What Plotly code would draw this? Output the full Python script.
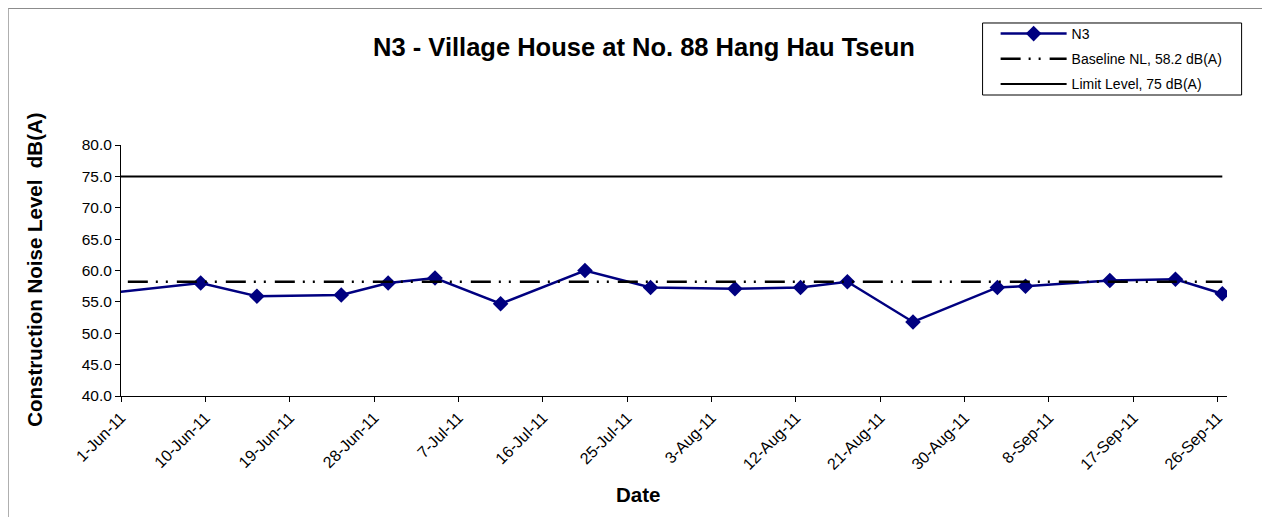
import pandas as pd
import plotly.graph_objects as go

# ---- data ----
dates = ["2011-05-27", "2011-06-09", "2011-06-15", "2011-06-24", "2011-06-29",
         "2011-07-04", "2011-07-11", "2011-07-20", "2011-07-27", "2011-08-05",
         "2011-08-12", "2011-08-17", "2011-08-24", "2011-09-02", "2011-09-05",
         "2011-09-14", "2011-09-21", "2011-09-26"]
n3_values = [55.9, 58.0, 55.9, 56.1, 58.0,
             58.8, 54.7, 60.0, 57.3, 57.1,
             57.3, 58.2, 51.8, 57.3, 57.5,
             58.4, 58.6, 56.3]
baseline_level = 58.2
limit_level = 75.0
tick_labels = ["1-Jun-11", "10-Jun-11", "19-Jun-11", "28-Jun-11", "7-Jul-11",
               "16-Jul-11", "25-Jul-11", "3-Aug-11", "12-Aug-11", "21-Aug-11",
               "30-Aug-11", "8-Sep-11", "17-Sep-11", "26-Sep-11"]
y_ticks = [40, 45, 50, 55, 60, 65, 70, 75, 80]

series_names = ["N3", "Baseline NL, 58.2 dB(A)", "Limit Level, 75 dB(A)"]
title_text = "N3 - Village House at No. 88 Hang Hau Tseun"

# Excel date axis places points in the middle of each day
x_dates = pd.to_datetime(dates) + pd.Timedelta(hours=12)
tick_dates = pd.to_datetime(tick_labels, format="%d-%b-%y")

FONT = "Liberation Sans, Arial, sans-serif"
W, H = 1262, 509  # page body has an 8px margin

fig = go.Figure()
fig.add_trace(go.Scatter(
    x=x_dates, y=n3_values, name=series_names[0], mode="lines+markers",
    line=dict(color="#000080", width=2.5),
    marker=dict(symbol="diamond", size=12, color="#000080"),
    legendgroup="a",
))
fig.add_trace(go.Scatter(
    x=x_dates, y=[baseline_level] * len(dates), name=series_names[1], mode="lines",
    line=dict(color="black", width=2.5, dash="20px,8px,2px,8px,2px,9px"),
    legendgroup="b",
))
fig.add_trace(go.Scatter(
    x=x_dates, y=[limit_level] * len(dates), name=series_names[2], mode="lines",
    line=dict(color="black", width=2),
    legendgroup="c",
))

fig.update_layout(
    width=W, height=H,
    margin=dict(l=113, r=43, t=137, b=121, autoexpand=False),
    paper_bgcolor="white", plot_bgcolor="white",
    font=dict(family=FONT, color="black"),
    title=dict(text="<b>" + title_text + "</b>", x=636 / W, xanchor="center",
               y=1 - 39 / H, yanchor="middle", font=dict(size=25.5, color="black")),
    showlegend=True,
    legend=dict(x=0.7908, y=1.506, xanchor="left", yanchor="top",
                borderwidth=0, bgcolor="rgba(0,0,0,0)",
                font=dict(size=14, color="black"), itemwidth=66,
                tracegroupgap=4),
    xaxis=dict(type="date", range=["2011-06-01", "2011-09-27"],
               tickvals=tick_dates, ticktext=tick_labels, tickangle=-45,
               ticks="outside", ticklen=5, tickcolor="black",
               showline=True, linecolor="black", linewidth=1,
               showgrid=False, zeroline=False,
               tickfont=dict(size=16, color="black")),
    yaxis=dict(range=[40, 80], tickvals=y_ticks, tickformat=".1f",
               ticks="outside", ticklen=5, tickcolor="black",
               showline=True, linecolor="black", linewidth=1,
               showgrid=False, zeroline=False,
               tickfont=dict(size=15.5, color="black")),
    annotations=[
        dict(text="<b>Construction Noise Level  dB(A)</b>", xref="paper", yref="paper",
             x=-0.078, y=0.502, textangle=-90, showarrow=False,
             font=dict(size=20.5, color="black"), xanchor="center", yanchor="middle"),
        dict(text="<b>Date</b>", xref="paper", yref="paper",
             x=0.467, y=-0.394, showarrow=False,
             font=dict(size=20.5, color="black"), xanchor="center", yanchor="middle"),
    ],
    shapes=[
        # chart-area border (left and top edges)
        dict(type="line", xref="paper", yref="paper", x0=-0.1020, x1=-0.1020,
             y0=1.5438, y1=-0.6, line=dict(color="#8c8c8c", width=1)),
        dict(type="line", xref="paper", yref="paper", x0=-0.1020, x1=1.1,
             y0=1.5438, y1=1.5438, line=dict(color="#8c8c8c", width=1)),
        # legend frame
        dict(type="rect", xref="paper", yref="paper", x0=0.7790, x1=1.0132,
             y0=1.1992, y1=1.4861, line=dict(color="black", width=1)),
    ],
)

fig.write_html("out.html")
